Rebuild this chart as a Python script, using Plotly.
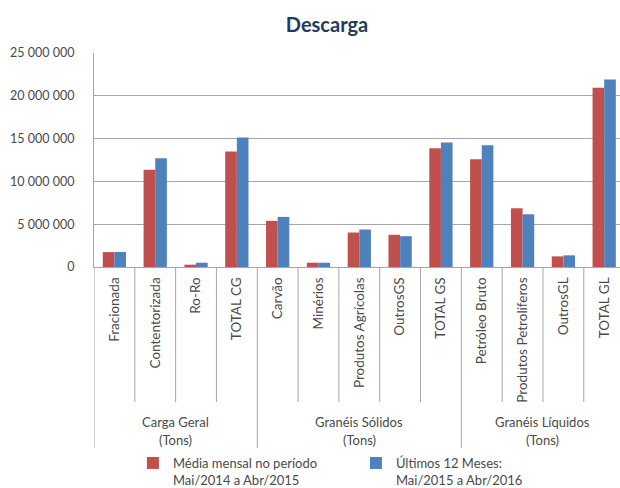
import plotly.graph_objects as go

categories = ["Fracionada", "Contentorizada", "Ro-Ro", "TOTAL CG",
              "Carvão", "Minérios", "Produtos Agrícolas", "OutrosGS", "TOTAL GS",
              "Petróleo Bruto", "Produtos Petrolíferos", "OutrosGL", "TOTAL GL"]
groups = ["Carga Geral", "Granéis Sólidos", "Granéis Líquidos"]
group_sizes = [4, 5, 4]
group_unit = "(Tons)"

media_2014_2015 = [1740000, 11360000, 270000, 13490000,
                   5390000, 500000, 4030000, 3760000, 13880000,
                   12600000, 6860000, 1240000, 20930000]
ultimos_2015_2016 = [1760000, 12710000, 500000, 15120000,
                     5850000, 500000, 4380000, 3600000, 14530000,
                     14220000, 6160000, 1360000, 21900000]

series_names = ["Média mensal no período<br>Mai/2014 a Abr/2015",
                "Últimos 12 Meses:<br>Mai/2015 a Abr/2016"]
y_ticks = [0, 5000000, 10000000, 15000000, 20000000, 25000000]

RED = "#C0504D"
BLUE = "#4F81BD"
GRID = "#A6A6A6"
TXT = "#4A4A4A"
FONT = "Lato"

fig = go.Figure()
fig.add_trace(go.Bar(x=categories, y=media_2014_2015, name=series_names[0],
                     marker=dict(color=RED, line=dict(width=0))))
fig.add_trace(go.Bar(x=categories, y=ultimos_2015_2016, name=series_names[1],
                     marker=dict(color=BLUE, line=dict(width=0))))

shapes = []
n = len(categories)
group_bounds = [0]
for s in group_sizes:
    group_bounds.append(group_bounds[-1] + s)
for i in range(n + 1):
    is_group = i in group_bounds
    shapes.append(dict(type="line", xref="x", yref="paper",
                       x0=i - 0.5, x1=i - 0.5, y0=0,
                       y1=-(181 / 214) if is_group else -(135 / 214),
                       line=dict(color=GRID, width=1)))

annotations = []
for g, name in enumerate(groups):
    center = (group_bounds[g] + group_bounds[g + 1] - 1) / 2
    annotations.append(dict(x=center, xref="x", y=-(155 / 214), yref="paper",
                            text=name, showarrow=False, yanchor="middle",
                            font=dict(family=FONT, size=13, color=TXT)))
    annotations.append(dict(x=center, xref="x", y=-(173 / 214), yref="paper",
                            text=group_unit, showarrow=False, yanchor="middle",
                            font=dict(family=FONT, size=13, color=TXT)))

fig.update_layout(
    template="none",
    width=620, height=488,
    margin=dict(l=94, r=0, t=53, b=221, autoexpand=False),
    paper_bgcolor="white", plot_bgcolor="white",
    separators=", ",
    font=dict(family=FONT, size=13, color=TXT),
    title=dict(text="<b>Descarga</b>", x=327 / 620, xref="container", xanchor="center",
               y=1 - 25 / 488, yref="container", yanchor="middle",
               font=dict(family=FONT, size=20, color="#243A5E")),
    barmode="group", bargap=0.43, bargroupgap=0,
    xaxis=dict(type="category", range=[-0.5, n - 0.5 - 4.6 / 40.8],
               tickangle=-90, ticks="", showline=True, linecolor=GRID, linewidth=1,
               showgrid=False, automargin=False, ticklabelstandoff=4,
               tickfont=dict(family=FONT, size=13.5, color=TXT)),
    yaxis=dict(range=[0, 25000000], tickvals=y_ticks, tickformat=",d",
               showgrid=True, gridcolor=GRID, gridwidth=1, zeroline=False,
               showline=True, linecolor=GRID, linewidth=1, ticks="",
               automargin=False, ticklabelstandoff=16,
               tickfont=dict(family=FONT, size=12.5, color=TXT)),
    legend=dict(orientation="h", x=0.074, xanchor="left", y=-(181 / 214), yanchor="top",
                valign="top", entrywidth=178, entrywidthmode="pixels",
                font=dict(family=FONT, size=13, color=TXT), bgcolor="rgba(0,0,0,0)"),
    shapes=shapes, annotations=annotations,
)

fig.write_html("out.html", config={"displayModeBar": False},
               post_script="document.body.style.margin='0px';")
